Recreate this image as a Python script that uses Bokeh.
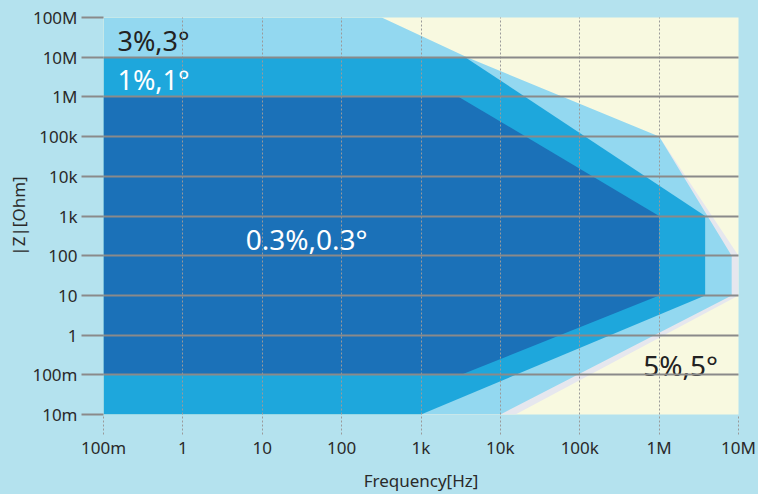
from bokeh.plotting import figure
from bokeh.models import FixedTicker, CustomJSTickFormatter, Range1d
from bokeh.core.properties import value
from bokeh.embed import file_html
from bokeh.resources import INLINE

# ---- axis ticks ----
x_ticks = [0.1, 1, 10, 100, 1e3, 1e4, 1e5, 1e6, 1e7]
x_labels = ["100m", "1", "10", "100", "1k", "10k", "100k", "1M", "10M"]
y_ticks = [1e-2, 1e-1, 1, 10, 100, 1e3, 1e4, 1e5, 1e6, 1e7, 1e8]
y_labels = ["10m", "100m", "1", "10", "100", "1k", "10k", "100k", "1M", "10M", "100M"]

# ---- accuracy region boundaries (frequency [Hz], |Z| [Ohm]) ----
edge_f = [1e6, 1e7, 1e7, 1.55e4, 1e3, 1e3]
edge_z = [1e5, 100, 10, 0.01, 0.01, 1e4]
acc3_f = [0.1, 320, 3.8e3, 1e6, 8.2e6, 8.2e6, 1e4, 0.1]
acc3_z = [1e8, 1e8, 1e7, 1e5, 100, 10, 0.01, 0.01]
acc1_f = [0.1, 3.6e3, 3.8e6, 3.8e6, 1e3, 0.1]
acc1_z = [1e7, 1e7, 1e3, 10, 0.01, 0.01]
acc03_f = [0.1, 3e3, 1e6, 1e6, 3.2e3, 0.1]
acc03_z = [1e6, 1e6, 1e3, 10, 0.1, 0.1]

region_labels = ["3%,3°", "1%,1°", "0.3%,0.3°", "5%,5°"]
label_f = [0.15, 0.15, 6.2, 6.3e5]
label_z = [2.6e7, 2.75e6, 270, 0.18]

FONT = "Noto Sans"

p = figure(width=758, height=494, x_axis_type="log", y_axis_type="log",
           x_range=Range1d(0.1, 1e7), y_range=Range1d(1e-2, 1e8),
           output_backend="svg", toolbar_location=None,
           min_border_left=103, min_border_right=20, min_border_top=17, min_border_bottom=80)

p.background_fill_color = "#f8f9e0"
p.border_fill_color = "#b4e2ee"
p.outline_line_color = None

p.patch(edge_f, edge_z, fill_color="#e6e7ee", line_color=None)
p.patch(acc3_f, acc3_z, fill_color="#93d8f0", line_color=None)
p.patch(acc1_f, acc1_z, fill_color="#1ea7dc", line_color=None)
p.patch(acc03_f, acc03_z, fill_color="#1b71b8", line_color=None)

p.text(x=label_f[0:1], y=label_z[0:1], text=region_labels[0:1], text_color="#222222",
       text_font=value(FONT), text_font_size="27px", text_baseline="middle", text_align="left")
p.text(x=label_f[1:2], y=label_z[1:2], text=region_labels[1:2], text_color="#ffffff",
       text_font=value(FONT), text_font_size="27px", text_baseline="middle", text_align="left")
p.text(x=label_f[2:3], y=label_z[2:3], text=region_labels[2:3], text_color="#ffffff",
       text_font=value(FONT), text_font_size="28px", text_baseline="middle", text_align="left")
p.text(x=label_f[3:4], y=label_z[3:4], text=region_labels[3:4], text_color="#222222",
       text_font=value(FONT), text_font_size="28px", text_baseline="middle", text_align="left")

fmt_code = """
for (let i = 0; i < vals.length; i++) {
  if (Math.abs(Math.log10(tick) - Math.log10(vals[i])) < 1e-6) return labs[i];
}
return "";
"""

xa = p.xaxis[0]
xa.ticker = FixedTicker(ticks=x_ticks, minor_ticks=[])
xa.formatter = CustomJSTickFormatter(args=dict(vals=x_ticks, labs=x_labels), code=fmt_code)
xa.axis_line_color = None
xa.major_tick_in = 0
xa.major_tick_out = 20
xa.major_tick_line_color = "#9a9a9a"
xa.major_tick_line_dash = "2 2"
xa.major_tick_line_width = 1
xa.minor_tick_line_color = None
xa.major_label_standoff = 1
xa.major_label_text_font = FONT
xa.major_label_text_font_size = "17px"
xa.major_label_text_color = "#2a2a2a"
xa.axis_label = "Frequency[Hz]"
xa.axis_label_text_font = FONT
xa.axis_label_text_font_size = "17px"
xa.axis_label_text_font_style = "normal"
xa.axis_label_text_color = "#2a2a2a"
xa.axis_label_standoff = 7

ya = p.yaxis[0]
ya.ticker = FixedTicker(ticks=y_ticks, minor_ticks=[])
ya.formatter = CustomJSTickFormatter(args=dict(vals=y_ticks, labs=y_labels), code=fmt_code)
ya.axis_line_color = None
ya.major_tick_in = 0
ya.major_tick_out = 22
ya.major_tick_line_color = "#8a8a8a"
ya.major_tick_line_width = 2
ya.minor_tick_line_color = None
ya.major_label_standoff = 4
ya.major_label_text_font = FONT
ya.major_label_text_font_size = "17px"
ya.major_label_text_color = "#2a2a2a"
ya.axis_label = "|Z|[Ohm]"
ya.axis_label_text_font = FONT
ya.axis_label_text_font_size = "17px"
ya.axis_label_text_font_style = "normal"
ya.axis_label_text_color = "#2a2a2a"
ya.axis_label_standoff = -1

p.xgrid.ticker = FixedTicker(ticks=x_ticks)
p.ygrid.ticker = FixedTicker(ticks=y_ticks)
p.xgrid.grid_line_color = "#9a9a9a"
p.xgrid.grid_line_dash = "2 2"
p.xgrid.grid_line_width = 1
p.ygrid.grid_line_color = "#8a8a8a"
p.ygrid.grid_line_width = 2
p.xgrid.level = "overlay"
p.ygrid.level = "overlay"

html = file_html(p, INLINE)
html = html.replace("<body>", '<body style="background:#b4e2ee">')
open("out.html", "w").write(html)
